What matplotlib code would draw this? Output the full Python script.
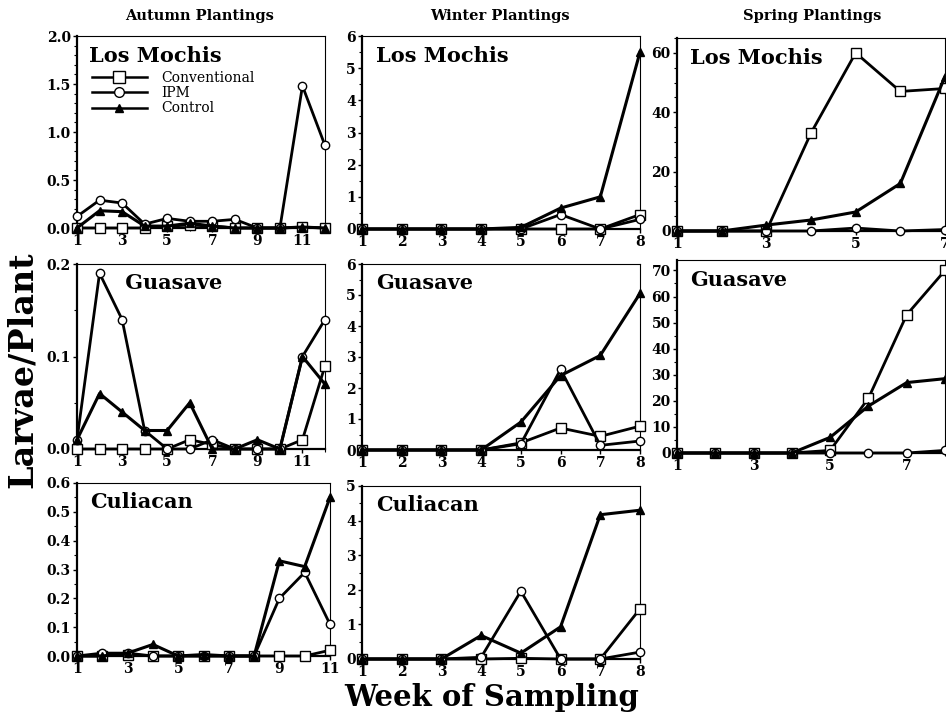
import numpy as np
import matplotlib
matplotlib.use('Agg')
import matplotlib.pyplot as plt
from matplotlib.ticker import MultipleLocator, FixedLocator, FixedFormatter
from matplotlib.lines import Line2D

plt.rcParams['font.family'] = ['DejaVu Serif']
plt.rcParams['font.weight'] = 'bold'

# donnees (larves / plante)
wk_aut = [1, 2, 3, 4, 5, 6, 7, 8, 9, 10, 11, 12]
wk_aut_cu = [1, 2, 3, 4, 5, 6, 7, 8, 9, 10, 11]
wk_win = [1, 2, 3, 4, 5, 6, 7, 8]
wk_spr_lm = [1, 2, 3, 4, 5, 6, 7]
wk_spr_gu = [1, 2, 3, 4, 5, 6, 7, 8]

aut_lm_conv = [0, 0, 0, 0, 0.02, 0.03, 0.02, 0, 0, 0, 0.01, 0]
aut_lm_ipm = [0.12, 0.29, 0.26, 0.04, 0.10, 0.07, 0.07, 0.09, 0, 0, 1.48, 0.86]
aut_lm_ctrl = [0, 0.18, 0.17, 0.02, 0.02, 0.05, 0.02, 0, 0, 0, 0.01, 0]

aut_gu_conv = [0, 0, 0, 0, 0, 0.01, 0.005, 0, 0, 0, 0.01, 0.09]
aut_gu_ipm = [0.01, 0.19, 0.14, 0.02, 0, 0, 0.01, 0, 0, 0, 0.10, 0.14]
aut_gu_ctrl = [0.01, 0.06, 0.04, 0.02, 0.02, 0.05, 0, 0, 0.01, 0, 0.10, 0.07]

aut_cu_conv = [0, 0, 0.005, 0, 0, 0, 0, 0, 0, 0, 0.02]
aut_cu_ipm = [0, 0.01, 0.01, 0, 0, 0, 0, 0, 0.20, 0.29, 0.11]
aut_cu_ctrl = [0, 0, 0.01, 0.04, 0, 0.005, 0, 0, 0.33, 0.31, 0.55]

win_lm_conv = [0, 0, 0, 0, 0, 0, 0, 0.45]
win_lm_ipm = [0, 0, 0, 0, 0, 0.45, 0, 0.3]
win_lm_ctrl = [0, 0, 0, 0, 0.05, 0.65, 1.0, 5.5]

win_gu_conv = [0, 0, 0, 0, 0.23, 0.71, 0.44, 0.77]
win_gu_ipm = [0, 0, 0, 0, 0.2, 2.6, 0.15, 0.29]
win_gu_ctrl = [0, 0, 0, 0, 0.9, 2.4, 3.05, 5.05]

win_cu_conv = [0, 0, 0, 0, 0.02, 0, 0, 1.45]
win_cu_ipm = [0, 0, 0, 0.05, 1.96, 0, 0, 0.2]
win_cu_ctrl = [0, 0, 0, 0.68, 0.17, 0.93, 4.17, 4.3]

spr_lm_conv = [0, 0, 0, 33, 60, 47, 48]
spr_lm_ipm = [0, 0, 0, 0, 1, 0, 0.5]
spr_lm_ctrl = [0, 0, 2, 3.7, 6.4, 16, 52]

spr_gu_conv = [0, 0, 0, 0, 1, 21, 53, 70]
spr_gu_ipm = [0, 0, 0, 0, 0, 0, 0, 1]
spr_gu_ctrl = [0, 0, 0, 0, 6, 18, 27, 28.5]

W, H = 946., 720.
fig = plt.figure(figsize=(W/100, H/100), dpi=100)

def box(x0, y0, x1, y1):
    # position en pixels -> fraction de figure
    return [x0/W, 1 - y1/H, (x1 - x0)/W, (y1 - y0)/H]

def panel(pos, wk, conv, ipm, ctrl, ymax, ymaj, ymin_step, xlab, name, yfmt):
    ax = fig.add_axes(box(*pos))
    ax.plot(wk, conv, '-', color='k', lw=2, marker='s', ms=7.5, mfc='white',
            mec='k', mew=1.0, clip_on=False, zorder=3)
    ax.plot(wk, ipm, '-', color='k', lw=2, marker='o', ms=6, mfc='white',
            mec='k', mew=1.0, clip_on=False, zorder=4)
    ax.plot(wk, ctrl, '-', color='k', lw=2.2, marker='^', ms=5.5, mfc='k',
            mec='k', clip_on=False, zorder=5)
    ax.set_xlim(wk[0], wk[-1])
    ax.set_ylim(0, ymax)
    ax.xaxis.set_major_locator(FixedLocator(xlab))
    ax.xaxis.set_major_formatter(FixedFormatter([str(v) for v in xlab]))
    ax.xaxis.set_minor_locator(MultipleLocator(1))
    ax.yaxis.set_major_locator(MultipleLocator(ymaj))
    ax.yaxis.set_major_formatter(yfmt)
    if ymin_step:
        ax.yaxis.set_minor_locator(MultipleLocator(ymin_step))
    ax.tick_params(axis='both', which='major', length=3, width=1, labelsize=10,
                   pad=1.5)
    ax.tick_params(axis='both', which='minor', length=2, width=0.8)
    for lab in ax.get_xticklabels() + ax.get_yticklabels():
        lab.set_fontweight('bold')
    for s in ['left', 'bottom']:
        ax.spines[s].set_linewidth(1.6)
    for s in ['top', 'right']:
        ax.spines[s].set_linewidth(0.8)
    ax.text(0.05, 0.95, name, transform=ax.transAxes, ha='left', va='top',
            fontsize=15, fontweight='bold')
    return ax

f1 = lambda v, p: '%.1f' % v
f0 = lambda v, p: '%d' % v

ax1 = panel((77, 36, 325, 228), wk_aut, aut_lm_conv, aut_lm_ipm, aut_lm_ctrl,
            2.0, 0.5, 0.1, [1, 3, 5, 7, 9, 11], 'Los Mochis', f1)
panel((77, 264, 325, 449), wk_aut, aut_gu_conv, aut_gu_ipm, aut_gu_ctrl,
      0.2, 0.1, 0.05, [1, 3, 5, 7, 9, 11], '     Guasave', f1)
panel((77, 483, 330, 656), wk_aut_cu, aut_cu_conv, aut_cu_ipm, aut_cu_ctrl,
      0.6, 0.1, 0.05, [1, 3, 5, 7, 9, 11], 'Culiacan', f1)

panel((362, 36, 640, 229), wk_win, win_lm_conv, win_lm_ipm, win_lm_ctrl,
      6, 1, 0.5, wk_win, 'Los Mochis', f0)
panel((362, 264, 640, 450), wk_win, win_gu_conv, win_gu_ipm, win_gu_ctrl,
      6, 1, 0.5, wk_win, 'Guasave', f0)
panel((362, 486, 640, 659), wk_win, win_cu_conv, win_cu_ipm, win_cu_ctrl,
      5, 1, 0.5, wk_win, 'Culiacan', f0)

panel((677, 38, 945, 231), wk_spr_lm, spr_lm_conv, spr_lm_ipm, spr_lm_ctrl,
      65, 20, 5, [1, 3, 5, 7], 'Los Mochis', f0)
panel((677, 260, 945, 453), wk_spr_gu, spr_gu_conv, spr_gu_ipm, spr_gu_ctrl,
      74, 10, 5, [1, 3, 5, 7], 'Guasave', f0)

# legende
handles = [Line2D([], [], color='k', lw=1.8, marker='s', ms=9, mfc='white', mec='k'),
           Line2D([], [], color='k', lw=1.8, marker='o', ms=7, mfc='white', mec='k'),
           Line2D([], [], color='k', lw=1.8, marker='^', ms=6, mfc='k', mec='k')]
leg = ax1.legend(handles, ['Conventional', 'IPM', 'Control'], loc='upper left',
                 bbox_to_anchor=(0.02, 0.87), frameon=False, handlelength=4.0,
                 labelspacing=0.1, handletextpad=1.0, borderpad=0.2,
                 prop={'family': 'DejaVu Serif', 'weight': 'normal', 'size': 10})

# titres de colonnes et axes
fig.text(200/W, 1 - 16/H, 'Autumn Plantings', ha='center', va='center',
         fontsize=10.5, fontweight='bold')
fig.text(500/W, 1 - 16/H, 'Winter Plantings', ha='center', va='center',
         fontsize=10.5, fontweight='bold')
fig.text(812/W, 1 - 16/H, 'Spring Plantings', ha='center', va='center',
         fontsize=10.5, fontweight='bold')
fig.text(22/W, 1 - 370/H, 'Larvae/Plant', rotation=90, ha='center', va='center',
         fontsize=24, fontweight='bold')
fig.text(492/W, 1 - 698/H, 'Week of Sampling', ha='center', va='center',
         fontsize=21, fontweight='bold')

plt.savefig('out.png', dpi=100)
